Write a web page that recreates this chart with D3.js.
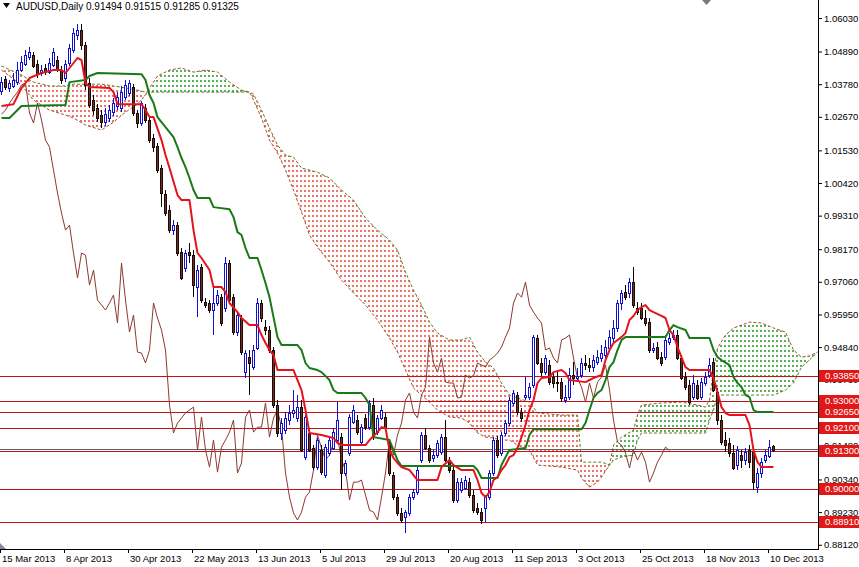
<!DOCTYPE html>
<html><head><meta charset="utf-8">
<script src="https://cdn.jsdelivr.net/npm/d3@7"></script>
<style>
html,body{margin:0;padding:0;background:#fff;}
svg{display:block;font-family:"Liberation Sans",Arial,sans-serif;}
</style></head><body>
<svg id="chart" width="859" height="567"></svg>
<script>
// ---------- DATA ----------
const symbolTitle = "AUDUSD,Daily";
const openP = [
1.0355,1.0395,1.0365,1.0372,1.0385,1.0426,1.0446,1.0470,1.0477,1.0446,
1.0416,1.0433,1.0419,1.0443,1.0460,1.0426,1.0399,1.0450,1.0494,1.0545,
1.0562,1.0511,1.0382,1.0324,1.0297,1.0273,1.0249,1.0263,1.0283,1.0304,
1.0297,1.0334,1.0348,1.0368,1.0280,1.0246,1.0297,1.0256,1.0195,1.0168,
1.0093,1.0004,0.9950,0.9882,0.9899,0.9807,0.9753,0.9807,0.9797,0.9688,
0.9756,0.9637,0.9634,0.9610,0.9634,0.9654,0.9617,0.9770,0.9654,0.9535,
0.9583,0.9399,0.9450,0.9416,0.9481,0.9634,0.9552,0.9542,0.9474,0.9287,
0.9192,0.9202,0.9236,0.9260,0.9243,0.9280,0.9110,0.9192,0.9141,0.9076,
0.9134,0.9049,0.9124,0.9141,0.9168,0.9178,0.9056,0.9124,0.9229,0.9236,
0.9161,0.9243,0.9212,0.9287,0.9195,0.9243,0.9246,0.9158,0.9049,0.8974,
0.8920,0.8906,0.8920,0.8974,0.8991,0.9100,0.9185,0.9141,0.9107,0.9117,
0.9127,0.9178,0.9100,0.9066,0.8964,0.8998,0.9005,0.9025,0.8981,0.8937,
0.8923,0.8937,0.8974,0.9056,0.9168,0.9124,0.9192,0.9226,0.9294,0.9321,
0.9263,0.9314,0.9314,0.9355,0.9515,0.9430,0.9399,0.9423,0.9382,0.9365,
0.9365,0.9304,0.9314,0.9389,0.9379,0.9389,0.9430,0.9423,0.9416,0.9433,
0.9447,0.9457,0.9481,0.9515,0.9549,0.9634,0.9671,0.9668,0.9705,0.9617,
0.9617,0.9583,0.9569,0.9474,0.9484,0.9450,0.9450,0.9501,0.9518,0.9525,
0.9447,0.9382,0.9355,0.9314,0.9355,0.9314,0.9362,0.9389,0.9433,0.9331,
0.9236,0.9168,0.9158,0.9124,0.9083,0.9117,0.9100,0.9134,0.9127,0.9008,
0.9056,0.9100,0.9114,0.91494];
const highP = [
1.0402,1.0406,1.0392,1.0416,1.0453,1.0474,1.0494,1.0504,1.0487,1.0460,
1.0443,1.0446,1.0467,1.0501,1.0474,1.0440,1.0460,1.0514,1.0569,1.0582,
1.0582,1.0521,1.0399,1.0341,1.0310,1.0290,1.0297,1.0307,1.0331,1.0351,
1.0372,1.0392,1.0392,1.0378,1.0290,1.0321,1.0310,1.0266,1.0208,1.0178,
1.0103,1.0018,0.9967,0.9916,0.9909,0.9821,0.9814,0.9838,0.9814,0.9763,
0.9766,0.9651,0.9644,0.9688,0.9678,0.9664,0.9790,0.9780,0.9664,0.9603,
0.9593,0.9474,0.9474,0.9491,0.9651,0.9644,0.9576,0.9556,0.9484,0.9304,
0.9243,0.9263,0.9287,0.9338,0.9321,0.9304,0.9253,0.9209,0.9151,0.9175,
0.9151,0.9154,0.9178,0.9209,0.9297,0.9192,0.9100,0.9256,0.9287,0.9253,
0.9222,0.9256,0.9304,0.9311,0.9253,0.9287,0.9260,0.9168,0.9059,0.8984,
0.8937,0.8930,0.8984,0.9001,0.9076,0.9195,0.9209,0.9151,0.9134,0.9168,
0.9188,0.9236,0.9110,0.9076,0.9039,0.9039,0.9046,0.9039,0.8998,0.8954,
0.8937,0.8981,0.9066,0.9178,0.9182,0.9195,0.9236,0.9314,0.9338,0.9331,
0.9277,0.9382,0.9362,0.9525,0.9525,0.9447,0.9457,0.9440,0.9399,0.9399,
0.9379,0.9355,0.9413,0.9433,0.9413,0.9447,0.9457,0.9447,0.9457,0.9474,
0.9491,0.9508,0.9542,0.9576,0.9644,0.9678,0.9695,0.9719,0.9756,0.9637,
0.9634,0.9610,0.9583,0.9498,0.9501,0.9467,0.9525,0.9532,0.9542,0.9542,
0.9457,0.9399,0.9372,0.9389,0.9372,0.9379,0.9399,0.9447,0.9447,0.9345,
0.9253,0.9195,0.9175,0.9151,0.9148,0.9134,0.9141,0.9151,0.9144,0.9073,
0.9107,0.9134,0.9168,0.91515];
const lowP = [
1.0341,1.0358,1.0351,1.0365,1.0375,1.0419,1.0440,1.0460,1.0433,1.0399,
1.0406,1.0409,1.0412,1.0436,1.0419,1.0378,1.0385,1.0440,1.0484,1.0528,
1.0494,1.0358,1.0297,1.0273,1.0249,1.0229,1.0236,1.0249,1.0270,1.0290,
1.0283,1.0324,1.0338,1.0270,1.0229,1.0236,1.0246,1.0178,1.0147,1.0076,
0.9960,0.9930,0.9872,0.9865,0.9794,0.9712,0.9739,0.9770,0.9654,0.9586,
0.9634,0.9617,0.9600,0.9525,0.9624,0.9556,0.9603,0.9634,0.9525,0.9522,
0.9457,0.9379,0.9321,0.9406,0.9474,0.9569,0.9525,0.9464,0.9277,0.9178,
0.9168,0.9188,0.9219,0.9243,0.9229,0.9127,0.9100,0.9127,0.9066,0.9066,
0.9049,0.9039,0.9114,0.9134,0.9161,0.8998,0.9046,0.9114,0.9222,0.9185,
0.9151,0.9202,0.9202,0.9168,0.9185,0.9236,0.9202,0.9046,0.8964,0.8910,
0.8886,0.8852,0.8910,0.8964,0.8981,0.9090,0.9134,0.9090,0.9093,0.9107,
0.9117,0.9093,0.9056,0.8954,0.8954,0.8988,0.8998,0.8971,0.8920,0.8913,
0.8882,0.8889,0.8964,0.9046,0.9107,0.9114,0.9182,0.9216,0.9284,0.9253,
0.9229,0.9304,0.9304,0.9345,0.9423,0.9386,0.9389,0.9355,0.9345,0.9331,
0.9297,0.9294,0.9304,0.9355,0.9365,0.9379,0.9406,0.9399,0.9399,0.9423,
0.9433,0.9447,0.9467,0.9501,0.9535,0.9610,0.9644,0.9651,0.9617,0.9593,
0.9576,0.9556,0.9464,0.9464,0.9440,0.9420,0.9440,0.9491,0.9508,0.9440,
0.9372,0.9338,0.9287,0.9304,0.9304,0.9304,0.9352,0.9379,0.9331,0.9219,
0.9151,0.9127,0.9110,0.9066,0.9066,0.9073,0.9083,0.9073,0.8998,0.8988,
0.9039,0.9090,0.9107,0.91285];
const closeP = [
1.0385,1.0368,1.0382,1.0392,1.0426,1.0453,1.0477,1.0487,1.0440,1.0412,
1.0426,1.0419,1.0450,1.0487,1.0426,1.0392,1.0446,1.0501,1.0552,1.0562,
1.0511,1.0375,1.0307,1.0290,1.0263,1.0249,1.0276,1.0290,1.0314,1.0334,
1.0351,1.0375,1.0382,1.0280,1.0246,1.0314,1.0256,1.0188,1.0164,1.0086,
1.0008,0.9940,0.9882,0.9899,0.9804,0.9719,0.9804,0.9797,0.9695,0.9746,
0.9644,0.9627,0.9610,0.9634,0.9661,0.9566,0.9770,0.9644,0.9535,0.9593,
0.9467,0.9464,0.9430,0.9474,0.9634,0.9583,0.9542,0.9474,0.9287,0.9192,
0.9226,0.9243,0.9260,0.9270,0.9280,0.9134,0.9246,0.9134,0.9076,0.9168,
0.9059,0.9144,0.9168,0.9195,0.9236,0.9056,0.9090,0.9246,0.9270,0.9195,
0.9212,0.9212,0.9294,0.9178,0.9243,0.9270,0.9212,0.9056,0.8974,0.8920,
0.8896,0.8923,0.8974,0.8991,0.9066,0.9185,0.9141,0.9100,0.9117,0.9158,
0.9178,0.9100,0.9066,0.8964,0.9025,0.9025,0.9032,0.8981,0.8930,0.8923,
0.8896,0.8974,0.9056,0.9168,0.9117,0.9185,0.9226,0.9304,0.9328,0.9263,
0.9243,0.9321,0.9348,0.9518,0.9430,0.9399,0.9447,0.9365,0.9362,0.9362,
0.9311,0.9314,0.9389,0.9379,0.9386,0.9430,0.9423,0.9416,0.9440,0.9450,
0.9464,0.9484,0.9518,0.9549,0.9634,0.9668,0.9654,0.9705,0.9627,0.9603,
0.9583,0.9566,0.9474,0.9481,0.9447,0.9430,0.9508,0.9515,0.9525,0.9447,
0.9379,0.9348,0.9297,0.9362,0.9311,0.9365,0.9382,0.9423,0.9338,0.9236,
0.9161,0.9151,0.9124,0.9073,0.9134,0.9100,0.9127,0.9093,0.9025,0.9056,
0.9093,0.9117,0.9144,0.91325];

// Tenkan-sen (red) read at bar positions
const tenkanBars = [0,3,5,7,10,13,15,16,17,19,20,21,22,27,28,29,35,36,37,38,40,41,42,44,45,47,48,49,50,52,53,55,56,57,59,60,62,64,65,66,67,68,69,73,75,76,77,80,83,84,85,91,92,94,95,96,97,98,99,100,102,103,104,109,110,112,113,115,118,119,120,121,122,123,124,125,126,127,128,129,130,131,132,133,134,135,137,138,140,141,142,146,148,150,151,152,153,155,156,157,158,159,160,161,162,163,165,166,167,168,169,170,171,172,177,178,179,180,181,182,186,187,188,189,190,193];
const tenkanVals = [1.0304,1.0310,1.0365,1.0399,1.0416,1.0426,1.0426,1.0416,1.0433,1.0467,1.0460,1.0382,1.0368,1.0365,1.0351,1.0310,1.0310,1.0290,1.0266,1.0266,1.0188,1.0137,1.0093,1.0001,0.9984,0.9984,0.9882,0.9804,0.9787,0.9746,0.9688,0.9688,0.9671,0.9634,0.9603,0.9583,0.9559,0.9559,0.9525,0.9498,0.9474,0.9457,0.9406,0.9406,0.9338,0.9270,0.9192,0.9185,0.9175,0.9158,0.9151,0.9151,0.9168,0.9195,0.9212,0.9209,0.9134,0.9107,0.9090,0.9076,0.9066,0.9049,0.9032,0.9032,0.9076,0.9100,0.9083,0.9066,0.9066,0.9032,0.8988,0.8974,0.8991,0.9032,0.9042,0.9066,0.9083,0.9110,0.9117,0.9141,0.9178,0.9219,0.9270,0.9304,0.9362,0.9379,0.9382,0.9399,0.9406,0.9396,0.9372,0.9365,0.9379,0.9389,0.9440,0.9474,0.9498,0.9518,0.9532,0.9576,0.9590,0.9610,0.9620,0.9627,0.9610,0.9603,0.9590,0.9583,0.9542,0.9525,0.9484,0.9450,0.9416,0.9406,0.9406,0.9379,0.9331,0.9280,0.9260,0.9253,0.9253,0.9219,0.9134,0.9093,0.9076,0.9076];

// Kijun-sen (green) read at bar positions
const kijunBars = [0,2,4,5,16,17,21,22,24,35,36,37,38,39,40,41,43,44,45,46,47,48,49,52,53,57,58,59,60,61,62,64,65,66,67,68,69,70,74,75,76,77,79,80,82,83,84,90,91,92,93,97,98,99,100,118,119,120,124,125,126,127,131,132,133,145,146,147,148,149,150,151,152,153,154,155,156,166,167,168,169,171,172,177,178,179,180,182,183,184,185,186,187,188,189,193];
const kijunVals = [1.0263,1.0263,1.0290,1.0304,1.0307,1.0385,1.0392,1.0406,1.0416,1.0412,1.0392,1.0341,1.0314,1.0266,1.0249,1.0232,1.0198,1.0164,1.0127,1.0096,1.0059,1.0018,0.9991,0.9991,0.9960,0.9953,0.9926,0.9875,0.9865,0.9821,0.9787,0.9787,0.9746,0.9702,0.9654,0.9586,0.9518,0.9491,0.9491,0.9474,0.9430,0.9413,0.9406,0.9399,0.9372,0.9338,0.9328,0.9328,0.9311,0.9287,0.9178,0.9168,0.9134,0.9100,0.9080,0.9080,0.9066,0.9039,0.9039,0.9083,0.9110,0.9134,0.9141,0.9185,0.9205,0.9205,0.9226,0.9270,0.9311,0.9328,0.9338,0.9372,0.9416,0.9433,0.9474,0.9508,0.9518,0.9518,0.9542,0.9559,0.9552,0.9542,0.9515,0.9515,0.9474,0.9450,0.9440,0.9423,0.9382,0.9362,0.9348,0.9321,0.9314,0.9270,0.9263,0.9263];

// Senkou spans (cloud), already shifted 26 bars forward
const cloudBars = [0,5,8,12,16,18,21,25,28,31,34,36,37,39,42,45,48,51,54,57,60,62,63,65,67,69,71,73,75,77,79,82,85,88,91,94,97,99,101,103,105,107,109,112,115,117,119,121,123,125,127,129,132,134,140,144,145,147,149,150,152,153,155,158,159,160,165,170,174,176,177,178,179,181,183,187,190,193,196,198,200,202,204];
const senkouA = [1.0426,1.0375,1.0324,1.0290,1.0273,1.0263,1.0239,1.0222,1.0249,1.0283,1.0310,1.0341,1.0365,1.0406,1.0426,1.0433,1.0419,1.0426,1.0419,1.0385,1.0358,1.0351,1.0324,1.0263,1.0188,1.0144,1.0086,1.0018,0.9943,0.9865,0.9824,0.9773,0.9712,0.9668,0.9627,0.9576,0.9515,0.9467,0.9406,0.9345,0.9321,0.9297,0.9270,0.9246,0.9243,0.9226,0.9192,0.9178,0.9175,0.9168,0.9168,0.9151,0.9134,0.9083,0.9076,0.9066,0.9039,0.9008,0.9025,0.9042,0.9083,0.9151,0.9178,0.9202,0.9253,0.9287,0.9294,0.9297,0.9287,0.9280,0.9304,0.9406,0.9481,0.9525,0.9549,0.9569,0.9566,0.9549,0.9535,0.9474,0.9450,0.9454,0.9467];
const senkouB = [1.0440,1.0409,1.0385,1.0372,1.0372,1.0378,1.0378,1.0378,1.0372,1.0365,1.0358,1.0351,1.0351,1.0351,1.0351,1.0351,1.0351,1.0351,1.0351,1.0351,1.0351,1.0351,1.0344,1.0290,1.0229,1.0171,1.0137,1.0130,1.0093,1.0086,1.0079,1.0059,1.0018,0.9984,0.9923,0.9882,0.9848,0.9814,0.9739,0.9678,0.9627,0.9569,0.9532,0.9508,0.9508,0.9518,0.9467,0.9433,0.9413,0.9362,0.9321,0.9311,0.9297,0.9260,0.9253,0.9253,0.9093,0.9093,0.9093,0.9093,0.9083,0.9100,0.9110,0.9117,0.9168,0.9192,0.9192,0.9192,0.9192,0.9192,0.9236,0.9270,0.9321,0.9321,0.9321,0.9321,0.9321,0.9321,0.9338,0.9362,0.9416,0.9440,0.9467];

// horizontal support / resistance levels
const levels = [0.9385, 0.9300, 0.9265, 0.9210, 0.9130, 0.9000, 0.8891];
// right price axis ticks
const priceTicks = [1.0603,1.0489,1.0378,1.0267,1.0153,1.0042,0.9931,0.9817,0.9706,0.9595,0.9484,0.9373,0.9262,0.9148,0.9034,0.8923,0.8812];
// date labels and their bar index
const dateLabels = ["15 Mar 2013","8 Apr 2013","30 Apr 2013","22 May 2013","13 Jun 2013","5 Jul 2013","29 Jul 2013","20 Aug 2013","11 Sep 2013","3 Oct 2013","25 Oct 2013","18 Nov 2013","10 Dec 2013"];
const dateLabelBars = [0,16,32,48,64,80,96,112,128,144,160,176,192];

// ---------- DRAWING ----------
const PW = 818, PH = 549;
const svg = d3.select("#chart");
const x = d3.scaleLinear().domain([0, 204.5]).range([1.5, 819.5]);
const xTick = d3.scaleLinear().domain([0, 204.5]).range([0, 818]);
const y = d3.scaleLinear().domain([0.87976, 1.06642]).range([PH, 0]);
const n = closeP.length;

const defs = svg.append("defs");
defs.append("clipPath").attr("id","plotClip").append("rect").attr("x",0).attr("y",0).attr("width",PW).attr("height",PH);

const cloud = cloudBars.map((b,k)=>({b, a: senkouA[k], s: senkouB[k]}));
// red part: where span B lies above span A ; green part: where A lies above B
const redPart = d3.area().x(d=>x(d.b)).y0(d=>y(d.a)).y1(d=>y(Math.max(d.a,d.s)));
const greenPart = d3.area().x(d=>x(d.b)).y0(d=>y(d.s)).y1(d=>y(Math.max(d.a,d.s)));
defs.append("clipPath").attr("id","redClip").append("path").attr("d", redPart(cloud));
defs.append("clipPath").attr("id","greenClip").append("path").attr("d", greenPart(cloud));

const plot = svg.append("g").attr("clip-path","url(#plotClip)");

// cloud hatch: dotted vertical strokes on every bar column, clipped to the kumo
const cols = d3.range(0, 205);
function hatchGroup(clipId, color){
  const g = plot.append("g").attr("clip-path",`url(#${clipId})`);
  g.selectAll("line").data(cols).join("line")
    .attr("x1",i=>x(i)-0.5).attr("x2",i=>x(i)-0.5).attr("y1",0).attr("y2",PH)
    .style("stroke",color).style("stroke-width","2px").style("stroke-dasharray","2 3")
    .style("shape-rendering","crispEdges");
}
hatchGroup("redClip", "#ee746a");
hatchGroup("greenClip", "#56b456");
plot.append("path").attr("d", d3.line().x(d=>x(d.b)).y(d=>y(d.a))(cloud))
  .attr("fill","none").attr("stroke","#a0522d").attr("stroke-width",1).attr("stroke-dasharray","3,2");
plot.append("path").attr("d", d3.line().x(d=>x(d.b)).y(d=>y(d.s))(cloud))
  .attr("fill","none").attr("stroke","#5f7a25").attr("stroke-width",1).attr("stroke-dasharray","3,2");

// levels
plot.selectAll("line.level").data(levels).join("line").attr("class","level")
  .attr("x1",0).attr("x2",PW).attr("y1",d=>Math.round(y(d))+0.5).attr("y2",d=>Math.round(y(d))+0.5)
  .attr("stroke","#c0141a").attr("stroke-width",1);
// bid line
const bid = closeP[n-1];
plot.append("line").attr("x1",0).attr("x2",PW).attr("y1",Math.round(y(bid))-0.5).attr("y2",Math.round(y(bid))-0.5)
  .attr("stroke","#606060").attr("stroke-width",1);

// chikou span: close plotted 26 bars back
const chikouIdx = d3.range(0, n-26);
plot.append("path").attr("d", d3.line().x(i=>x(i)).y(i=>y(closeP[i+26]))(chikouIdx))
  .attr("fill","none").attr("stroke","#8b3a2f").attr("stroke-width",1);

// candles
const idx = d3.range(n);
const cg = plot.append("g");
cg.selectAll("line.wick").data(idx).join("line").attr("class","wick")
  .attr("x1",i=>x(i)).attr("x2",i=>x(i))
  .attr("y1",i=>Math.round(y(highP[i]))).attr("y2",i=>Math.round(y(lowP[i])))
  .attr("stroke",i=>closeP[i]>=openP[i]?"#1010d0":"#000")
  .attr("stroke-width",1);
cg.selectAll("rect.body").data(idx).join("rect").attr("class","body")
  .attr("x",i=>x(i)-1).attr("width",2)
  .attr("y",i=>Math.round(y(Math.max(openP[i],closeP[i])))+0.5)
  .attr("height",i=>Math.max(1, Math.round(y(Math.min(openP[i],closeP[i])))-Math.round(y(Math.max(openP[i],closeP[i])))))
  .attr("fill",i=>closeP[i]>=openP[i]?"#ffffff":"#7a2b20")
  .attr("stroke",i=>closeP[i]>=openP[i]?"#1010d0":"#1a0a08")
  .attr("stroke-width",1);

// tenkan & kijun
plot.append("path").attr("d", d3.line().x((b)=>x(b)).y((b,k)=>y(kijunVals[k]))(kijunBars))
  .attr("fill","none").attr("stroke","#177a17").attr("stroke-width",2).attr("stroke-linejoin","round");
plot.append("path").attr("d", d3.line().x((b)=>x(b)).y((b,k)=>y(tenkanVals[k]))(tenkanBars))
  .attr("fill","none").attr("stroke","#e3141c").attr("stroke-width",2).attr("stroke-linejoin","round");

// axes lines
svg.append("line").attr("x1",PW+0.5).attr("x2",PW+0.5).attr("y1",0).attr("y2",PH+1).attr("stroke","#000");
svg.append("line").attr("x1",0).attr("x2",PW+1).attr("y1",PH+0.5).attr("y2",PH+0.5).attr("stroke","#000");

// right axis
const yAxis = d3.axisRight(y).tickValues(priceTicks).tickFormat(d3.format(".5f")).tickSize(4).tickSizeOuter(0).tickPadding(2);
const ya = svg.append("g").attr("transform",`translate(${PW},0)`).call(yAxis);
ya.select(".domain").remove();
ya.selectAll("text").attr("font-size","9.5px").attr("font-family","'Liberation Sans',Arial,sans-serif").attr("fill","#000");
ya.selectAll("line").attr("stroke","#000");

// bottom axis
const xAxis = d3.axisBottom(xTick).tickValues(dateLabelBars).tickFormat((d,k)=>dateLabels[k]).tickSize(4).tickSizeOuter(0);
const xa = svg.append("g").attr("transform",`translate(0,${PH})`).call(xAxis);
xa.select(".domain").remove();
xa.selectAll("text").attr("text-anchor","start").attr("x",1.5).attr("y",6).attr("font-size","9.5px")
  .attr("font-family","'Liberation Sans',Arial,sans-serif").attr("fill","#000");
xa.selectAll("line").attr("stroke","#000");

// level labels on the price axis
const lab = svg.append("g").selectAll("g").data(levels).join("g")
  .attr("transform",d=>`translate(${PW+1},${Math.round(y(d))})`);
lab.append("rect").attr("x",0).attr("y",-6).attr("width",41).attr("height",12).attr("fill","#e01818");
lab.append("text").attr("x",6).attr("y",0).attr("dy","0.35em").attr("font-size","9.5px").attr("fill","#fff")
  .text(d=>d3.format(".5f")(d));

// header
svg.append("path").attr("d","M3,3 L10,3 L6.5,8 Z").attr("fill","#000");
svg.append("text").attr("x",16).attr("y",10).attr("font-size","10px").attr("fill","#000")
  .text(symbolTitle + "  " + [openP[n-1],highP[n-1],lowP[n-1],closeP[n-1]].map(d3.format(".5f")).join(" "));

// chart-shift marker & corner marker
svg.append("path").attr("d","M702,0 L711,0 L706.5,5 Z").attr("fill","#7a7a7a");
svg.append("path").attr("d","M0,543 L0,549 L6,549 Z").attr("fill","#8a8aa0");
</script>
</body></html>
